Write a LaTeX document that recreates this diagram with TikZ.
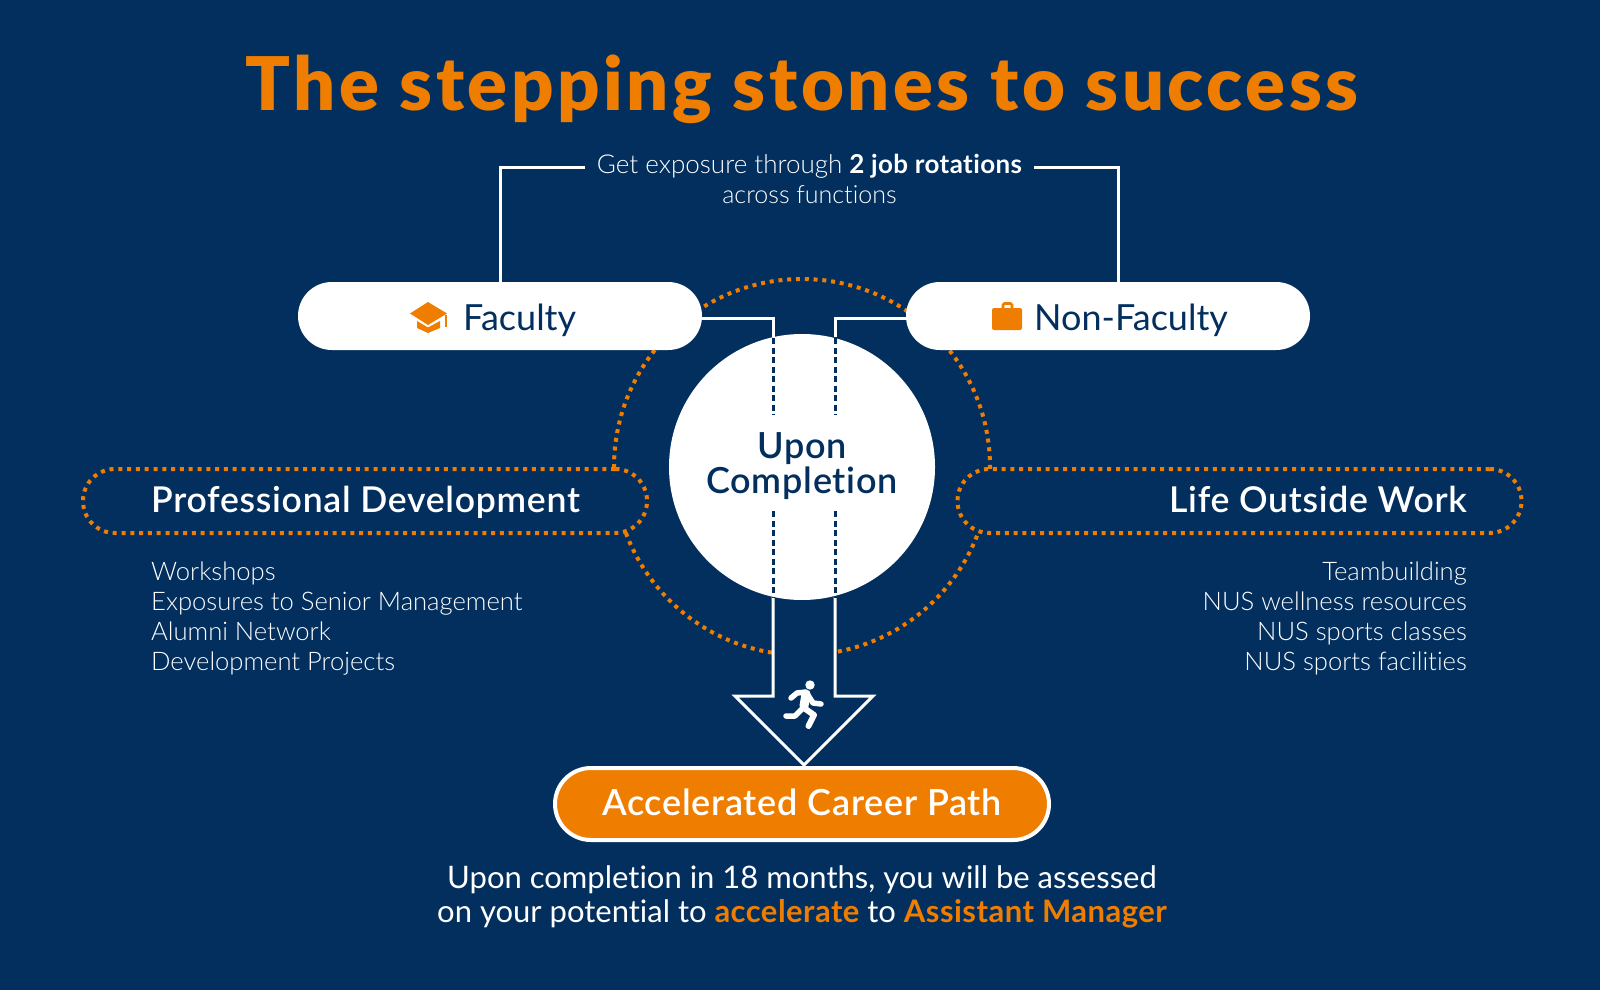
\documentclass[tikz,border=0pt]{standalone}
\usepackage{fontspec}
\setmainfont{Lato}[Ligatures=NoCommon]
\newfontfamily\lightfont{Lato Light}[Ligatures=NoCommon]
\newfontfamily\titlefont{Lato Black}[Ligatures=NoCommon, LetterSpace=4.8]
\newfontfamily\headfont{Lato Semibold}[Ligatures=NoCommon, LetterSpace=2]
\newfontfamily\strongfont{Lato Bold}[Ligatures=NoCommon, LetterSpace=1.5]
\usepackage{xcolor}
\usetikzlibrary{calc}
\definecolor{navy}{HTML}{032F5E}
\definecolor{orange}{HTML}{EF7D00}
\definecolor{paper}{HTML}{FFFFFF}
\tikzset{
  line/.style={draw=paper, line width=3pt},
  dotline/.style={draw=orange, line width=4pt, dash pattern=on 4pt off 4.8pt},
  navydash/.style={draw=navy, line width=3pt, dash pattern=on 6pt off 3.5pt},
  pill/.style={fill=paper, rounded corners=33.9pt, minimum width=404pt, minimum height=68pt, inner sep=0pt},
  dotpill/.style={dotline, fill=navy, rounded corners=31.9pt, minimum width=564pt, minimum height=64pt, inner sep=0pt},
  head/.style={text=paper, font=\headfont\fontsize{35.6}{36}\selectfont, inner sep=0pt},
  pilltext/.style={text=navy, font=\fontsize{36}{36}\selectfont, inner sep=0pt},
  small/.style={text=paper, font=\lightfont\fontsize{25.6}{30}\selectfont, inner sep=0pt}
}

\begin{document}
\begin{tikzpicture}[x=1pt, y=-1pt]
  \fill[navy] (0,0) rectangle (1600,990);
  \useasboundingbox (0,0) rectangle (1600,990);

  \coordinate (M) at (802,467);
  \coordinate (ftop) at (500,167);
  \coordinate (ntop) at (1118,167);
  \coordinate (fdrop) at (773,318);
  \coordinate (ndrop) at (835,318);
  \coordinate (fbase) at (773,696);
  \coordinate (nbase) at (835,696);
  \coordinate (hleft) at (735,696);
  \coordinate (hright) at (873,696);
  \coordinate (htip) at (804,765);

  \draw[dotline] (M) circle (188);

  \node[text=orange, font=\titlefont\fontsize{74}{74}\selectfont, inner sep=0pt, anchor=base] (title) at (802,110) {The stepping stones to success};

  \node[dotpill] (prof) at (365,501) {};
  \node[dotpill] (life) at (1239.5,501) {};
  \node[head, anchor=base west] (proftext) at (151,512) {Professional Development};
  \node[head, anchor=base east] (lifetext) at (1467,512) {Life Outside Work};
  \node[small, anchor=north west, align=left] (proflist) at (151,562) {Workshops\\Exposures to Senior Management\\Alumni Network\\Development Projects};
  \node[small, anchor=north east, align=right] (lifelist) at (1467,562) {Teambuilding\\NUS wellness resources\\NUS sports classes\\NUS sports facilities};

  \node[pill] (faculty) at (500,316) {};
  \node[pill] (nonfaculty) at (1108,316) {};
  \node[pilltext, anchor=base west] (facultytext) at (463,330) {Faculty};
  \node[pilltext, anchor=base west] (nonfacultytext) at (1034,330) {Non-Faculty};

  \node[small, align=center, inner xsep=12pt] (rotations) at (809.5,179) {\fontsize{26}{30}\selectfont Get exposure through {\strongfont 2 job rotations}\\\fontsize{25}{30}\selectfont across functions};

  \draw[line] (faculty.north) -- (ftop) -- (ftop -| rotations.west);
  \draw[line] (nonfaculty.north -| ntop) -- (ntop) -- (ntop -| rotations.east);

  \node[circle, fill=paper, minimum size=266pt, inner sep=0pt] (circ) at (M) {};

  \fill[navy] (fbase |- circ.south) -- (fbase) -- (hleft) -- (htip) -- (hright) -- (nbase) -- (nbase |- circ.south) -- cycle;
  \draw[line] (faculty.east |- fdrop) -- (fdrop) -- (fdrop |- 0,337);
  \draw[line] (nonfaculty.west |- ndrop) -- (ndrop) -- (ndrop |- 0,337);
  \draw[line, line join=miter] (fbase |- 0,597) -- (fbase) -- (hleft) -- (htip) -- (hright) -- (nbase) -- (nbase |- 0,597);
  \draw[navydash] (fdrop |- 0,338) -- (fdrop |- 0,415);
  \draw[navydash] (ndrop |- 0,338) -- (ndrop |- 0,415);
  \draw[navydash] (fdrop |- 0,511) -- (fdrop |- 0,597);
  \draw[navydash] (ndrop |- 0,511) -- (ndrop |- 0,597);

  \node[text=navy, font=\headfont\fontsize{36}{35.5}\selectfont, align=center, inner sep=0pt] (upon) at (802,466) {Upon\\Completion};

  \node[fill=orange, draw=paper, line width=4pt, rounded corners=36pt, minimum width=494pt, minimum height=72pt, inner sep=0pt] (career) at (802,804) {};
  \node[head, font=\headfont\fontsize{36}{36}\selectfont, anchor=base] (careertext) at (802,815) {Accelerated Career Path};

  \node[text=paper, font=\fontsize{31}{34}\selectfont, align=center, inner sep=0pt] (assess) at (802,897) {Upon completion in 18 months, you will be assessed\\on your potential to {\color{orange}\strongfont accelerate} to {\color{orange}\strongfont Assistant Manager}};

  % cap
  \fill[orange] (428,302) -- (447,313.5) -- (428,325) -- (410,313.5) -- cycle;
  \fill[orange] (417,321) -- (428,327.5) -- (440,321) -- (440,328) -- (428,333) -- (417,328) -- cycle;
  \fill[orange] (444.5,315) rectangle (447,327);

  % case
  \fill[orange, rounded corners=2pt] (992,308) rectangle (1022,330);
  \draw[orange, line width=2.6pt, rounded corners=1.5pt] (1003,308) -- (1003,303.5) -- (1012,303.5) -- (1012,308);

  % runner
  \fill[paper] (810,685) circle (4.7);
  \draw[paper, line width=9pt, line cap=round] (806,694) -- (804,706);
  \draw[paper, line width=5.5pt, line cap=round, line join=round] (791,698) -- (797,693) -- (806,692) -- (813,703) -- (821,704);
  \draw[paper, line width=6pt, line cap=round, line join=round] (804,708) -- (814,715) -- (808.5,726);
  \draw[paper, line width=5.5pt, line cap=round, line join=round] (803,708) -- (795,716) -- (786,716);
\end{tikzpicture}
\end{document}
